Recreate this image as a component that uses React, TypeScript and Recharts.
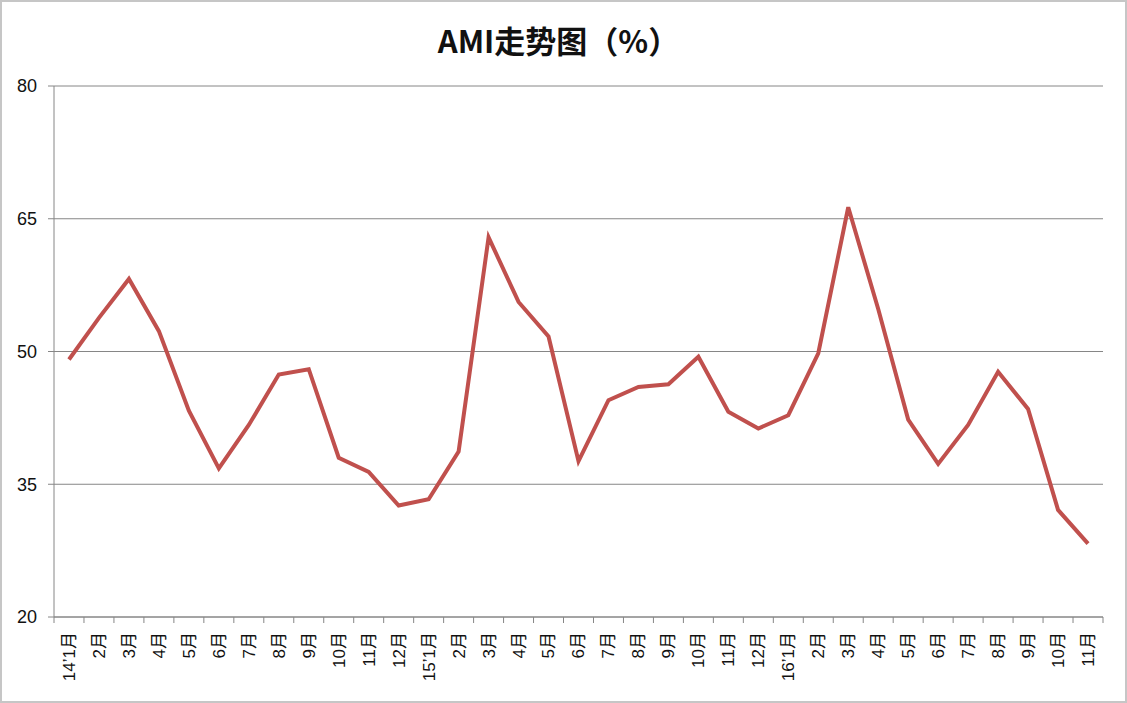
import React from "react";
import {
  LineChart,
  Line,
  XAxis,
  YAxis,
  CartesianGrid,
} from "recharts";

const MONTHS = [
  "14’1月", "2月", "3月", "4月", "5月", "6月", "7月", "8月", "9月", "10月", "11月", "12月",
  "15’1月", "2月", "3月", "4月", "5月", "6月", "7月", "8月", "9月", "10月", "11月", "12月",
  "16’1月", "2月", "3月", "4月", "5月", "6月", "7月", "8月", "9月", "10月", "11月",
];

const AMI = [
  49.1, 53.8, 58.2, 52.3, 43.3, 36.8, 41.7, 47.4, 48.0, 38.0, 36.4, 32.6,
  33.3, 38.7, 62.9, 55.6, 51.7, 37.6, 44.5, 46.0, 46.3, 49.4, 43.2, 41.3,
  42.8, 49.8, 66.3, 54.8, 42.3, 37.3, 41.7, 47.7, 43.5, 32.1, 28.3,
];

const Y_TICKS = [20, 35, 50, 65, 80];

const data = MONTHS.map((m, i) => ({ month: m, ami: AMI[i] }));

const W = 1127;
const H = 703;
const PLOT_LEFT = 54;
const PLOT_RIGHT = 1103;
const PLOT_TOP = 86;
const PLOT_BOTTOM = 617;
const BAND = (PLOT_RIGHT - PLOT_LEFT) / MONTHS.length;
const GRID = "#868686";

const MonthTick = (props: any) => {
  const { x, y, payload, index } = props;
  const half = BAND / 2;
  return (
    <g>
      <line x1={x - half} y1={y} x2={x - half} y2={y + 6} stroke={GRID} />
      {index === MONTHS.length - 1 && (
        <line x1={x + half} y1={y} x2={x + half} y2={y + 6} stroke={GRID} />
      )}
      <g transform={`translate(${x},${y + 15})`}>
        <text
          x={0}
          y={0}
          dy="0.35em"
          textAnchor="end"
          transform="rotate(-90)"
          fontSize={17}
          fontFamily="'Liberation Sans', 'Noto Sans CJK SC', sans-serif"
          fill="#111"
        >
          {payload.value}
        </text>
      </g>
    </g>
  );
};

export default function App() {
  return (
    <div style={{ position: "absolute", left: 0, top: 0, width: W, height: H, background: "#fff" }}>
      <div
        style={{
          position: "absolute",
          left: 0,
          top: 0,
          width: W,
          height: H,
          boxSizing: "border-box",
          border: "2px solid #c6c6c6",
          pointerEvents: "none",
        }}
      />
      <div
        style={{
          position: "absolute",
          left: 0,
          top: 22,
          width: 1117,
          textAlign: "center",
          fontFamily: "'Noto Sans CJK SC', sans-serif",
          fontWeight: 700,
          fontSize: 31,
          lineHeight: "36px",
          color: "#111",
        }}
      >
        AMI走势图（%）
      </div>
      <div style={{ position: "absolute", left: 0, top: 0 }}>
        <LineChart
          width={W}
          height={H}
          data={data}
          margin={{ top: PLOT_TOP, right: W - PLOT_RIGHT, left: 0, bottom: 0 }}
        >
          <CartesianGrid vertical={false} stroke={GRID} strokeDasharray="" />
          <XAxis
            dataKey="month"
            interval={0}
            height={H - PLOT_BOTTOM}
            padding={{ left: BAND / 2, right: BAND / 2 }}
            tickLine={false}
            tickSize={0}
            tickMargin={0}
            axisLine={{ stroke: GRID }}
            tick={<MonthTick />}
          />
          <YAxis
            width={PLOT_LEFT}
            domain={[20, 80]}
            ticks={Y_TICKS}
            interval={0}
            tickSize={6}
            tickMargin={11}
            axisLine={{ stroke: GRID }}
            tickLine={{ stroke: GRID }}
            tick={{ fontSize: 18, fill: "#111", fontFamily: "'Liberation Sans', sans-serif" }}
          />
          <Line
            type="linear"
            dataKey="ami"
            stroke="#C0504D"
            strokeWidth={4}
            dot={false}
            isAnimationActive={false}
          />
        </LineChart>
      </div>
    </div>
  );
}
